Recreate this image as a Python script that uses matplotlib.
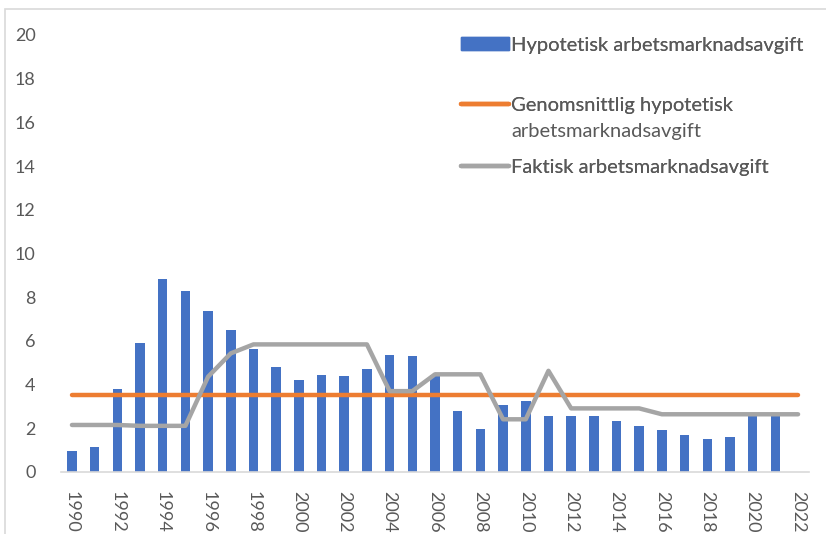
import matplotlib
matplotlib.use("Agg")
import matplotlib.pyplot as plt
from matplotlib.patches import Rectangle, Patch
from matplotlib.lines import Line2D

plt.rcParams["font.family"] = ["Lato", "DejaVu Sans"]

years = list(range(1990, 2023))
bar_years = list(range(1990, 2022))
hypotetisk = [0.95, 1.15, 3.78, 5.9, 8.82, 8.27, 7.37, 6.47, 5.63, 4.79,
              4.2, 4.41, 4.38, 4.71, 5.36, 5.32, 4.42, 2.78, 1.95, 3.04,
              3.22, 2.56, 2.56, 2.53, 2.32, 2.08, 1.89, 1.68, 1.51, 1.59,
              2.6, 2.6]
genomsnitt = 3.52
faktisk = [2.14, 2.14, 2.14, 2.1, 2.1, 2.1, 4.35, 5.42, 5.83, 5.83,
           5.83, 5.83, 5.83, 5.83, 3.69, 3.69, 4.46, 4.46, 4.46, 2.4,
           2.4, 4.62, 2.9, 2.9, 2.9, 2.9, 2.63, 2.63, 2.63, 2.63,
           2.63, 2.63, 2.63]

blue = "#4472C4"
orange = "#ED7D31"
grey = "#A5A5A5"
txt = "#595959"

W, H = 826, 534
fig = plt.figure(figsize=(W / 100, H / 100), dpi=100)
ax = fig.add_axes([60.6 / W, 1 - 471.7 / H, (809.4 - 60.6) / W, (471.7 - 35) / H])

ax.bar(bar_years, hypotetisk, width=0.42, color=blue, zorder=2)
ax.plot(years, [genomsnitt] * len(years), color=orange, lw=3.2,
        solid_capstyle="round", zorder=3)
ax.plot(years, faktisk, color=grey, lw=3.2, solid_capstyle="round",
        solid_joinstyle="round", zorder=4)

ax.set_xlim(1989.5, 2022.5)
ax.set_ylim(0, 20)
ax.set_yticks(range(0, 21, 2))
ax.set_xticks(range(1990, 2023, 2))
ax.set_xticklabels([str(y) for y in range(1990, 2023, 2)], rotation=-90)
ax.tick_params(axis="both", length=0, labelsize=13, labelcolor=txt)
ax.tick_params(axis="y", pad=18)
ax.tick_params(axis="x", pad=14)
for s in ["left", "top", "right"]:
    ax.spines[s].set_visible(False)
ax.spines["bottom"].set_color("#D9D9D9")
ax.spines["bottom"].set_linewidth(1.2)

# legend entries, placed one by one to match spacing
entries = [
    (Patch(color=blue), "Hypotetisk arbetsmarknadsavgift", 45),
    (Line2D([], [], color=orange, lw=3.2, solid_capstyle="round"),
     "Genomsnittlig hypotetisk", 105),
    (Line2D([], [], color=grey, lw=3.2, solid_capstyle="round"),
     "Faktisk arbetsmarknadsavgift", 167),
]
legs = []
for handle, label, ypix in entries:
    leg = fig.legend([handle], [label], loc="center left",
                     bbox_to_anchor=(461 / W, 1 - ypix / H), frameon=False,
                     fontsize=14.5, labelcolor=txt, handlelength=2.4,
                     handleheight=0.6, handletextpad=0.1, borderpad=0,
                     borderaxespad=0)
    fig.add_artist(leg)
    legs.append(leg)

# second line of the wrapped orange legend label
fig.canvas.draw()
first = legs[1].get_texts()[0]
x0 = first.get_window_extent().x0
fig.text(x0 / W, 1 - 131 / H, "arbetsmarknadsavgift",
         fontproperties=first.get_fontproperties(),
         color=txt, va="center", ha="left")

fig.add_artist(Rectangle((5 / W, -0.1), 1.2, 1.1 - 9 / H, transform=fig.transFigure,
                         fill=False, edgecolor="#D9D9D9", lw=1.2))

fig.savefig("out.png", dpi=100)
